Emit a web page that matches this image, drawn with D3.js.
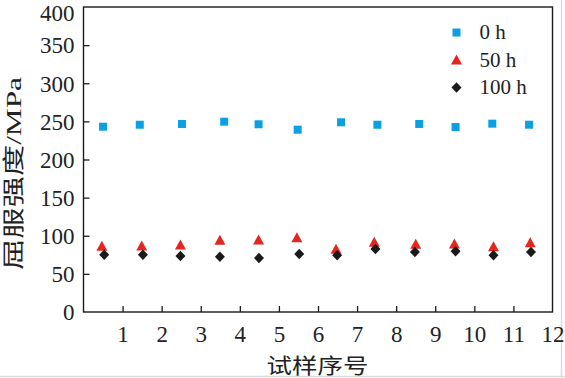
<!DOCTYPE html>
<html>
<head>
<meta charset="utf-8">
<script src="https://cdn.jsdelivr.net/npm/d3@7"></script>
<style>
  body { margin: 0; background: #fff; }
</style>
</head>
<body>
<div id="chart"></div>
<script>
var serif = "'Liberation Serif', 'Times New Roman', 'DejaVu Serif', serif";

// sample number positions
var x0h = [0.5, 1.44, 2.52, 3.6, 4.48, 5.48, 6.59, 7.52, 8.59, 9.52, 10.46, 11.4];
var x50h = [0.47, 1.49, 2.48, 3.49, 4.48, 5.46, 6.46, 7.44, 8.5, 9.49, 10.49, 11.43];
var x100h = [0.53, 1.52, 2.48, 3.49, 4.49, 5.52, 6.49, 7.47, 8.48, 9.52, 10.49, 11.45];

// yield strength, MPa
var y0h = [243, 245.6, 246.6, 249.6, 246.2, 239.1, 248.8, 245.6, 246.6, 242.6, 247, 245.6];
var y50h = [86.2, 86.6, 87.9, 94, 94.4, 97.4, 82.2, 91.4, 88.8, 89.2, 85.6, 90.9];
var y100h = [75.1, 75.1, 73.4, 72.5, 70.8, 76.1, 74.4, 82.6, 78.7, 79.6, 74.4, 78.7];

var seriesNames = ["0 h", "50 h", "100 h"];
var xTicks = [1, 2, 3, 4, 5, 6, 7, 8, 9, 10, 11, 12];
var yTicks = [0, 50, 100, 150, 200, 250, 300, 350, 400];

var margin = {top: 7, right: 12.5, bottom: 66, left: 83.5},
    width = 565 - margin.left - margin.right,
    height = 378 - margin.top - margin.bottom;

var x = d3.scaleLinear()
    .domain([0, 12])
    .range([0, width]);
var y = d3.scaleLinear()
    .domain([0, 400])
    .range([height, 0]);

var svg = d3.select("#chart")
  .append("svg")
    .attr("width", 565)
    .attr("height", 378);

// faint page border like the scan
svg.append("line")
    .attr("x1", 561.5).attr("x2", 561.5).attr("y1", 0).attr("y2", 378)
    .style("stroke", "#dcdcdc").style("stroke-width", 1.5);
svg.append("line")
    .attr("x1", 0).attr("x2", 565).attr("y1", 376.5).attr("y2", 376.5)
    .style("stroke", "#dcdcdc").style("stroke-width", 1.5);

var g = svg.append("g")
    .attr("transform", "translate(" + margin.left + "," + margin.top + ")");

// frame
g.append("rect")
    .attr("x", 0).attr("y", 0)
    .attr("width", width).attr("height", height)
    .style("fill", "none")
    .style("stroke", "#1a1a1a")
    .style("stroke-width", 1.4);

// x axis, ticks pointing in
var xAxis = g.append("g")
    .attr("transform", "translate(0," + height + ")")
    .call(d3.axisBottom(x).tickValues(xTicks).tickSizeInner(-6).tickSizeOuter(0).tickPadding(14));
xAxis.select(".domain").remove();
xAxis.selectAll("g.tick line")
    .style("stroke", "#1a1a1a").style("stroke-width", 1.3)
    .style("display", function(d) { return d === 12 ? "none" : null; });
xAxis.selectAll("g.tick text")
    .style("font-family", serif)
    .style("fill", "#222")
    .style("font-size", "23px");

// y axis, ticks pointing in
var yAxis = g.append("g")
    .call(d3.axisLeft(y).tickValues(yTicks).tickSizeInner(-6).tickSizeOuter(0).tickPadding(9));
yAxis.select(".domain").remove();
yAxis.selectAll("g.tick line")
    .style("stroke", "#1a1a1a").style("stroke-width", 1.3)
    .style("display", function(d) { return (d === 0 || d === 400) ? "none" : null; });
// top label nudged down so it stays inside the page
yAxis.selectAll("g.tick text")
    .attr("dy", function(d) { return d === 400 ? "0.6em" : "0.34em"; })
    .style("font-family", serif)
    .style("fill", "#222")
    .style("font-size", "23px");

// axis titles
svg.append("text")
    .attr("x", 317.5)
    .attr("y", 373)
    .attr("text-anchor", "middle")
    .attr("textLength", 102)
    .attr("lengthAdjust", "spacingAndGlyphs")
    .style("font-size", "21px")
    .style("fill", "#222")
    .style("font-family", "'Noto Sans CJK SC', sans-serif")
    .text("试样序号");

svg.append("text")
    .attr("transform", "translate(21,173.5) rotate(-90)")
    .attr("text-anchor", "middle")
    .attr("textLength", 193)
    .attr("lengthAdjust", "spacingAndGlyphs")
    .style("font-size", "22px")
    .style("fill", "#222")
    .style("font-family", "'Liberation Serif', 'Noto Sans CJK SC', serif")
    .text("屈服强度/MPa");

// marker shapes
var squarePath = "M-4,-4H4V4H-4Z";
var trianglePath = "M0,-5.5L5.5,4.5H-5.5Z";
var diamondPath = "M0,-5.2L5,0L0,5.2L-5,0Z";

var series = [
  {name: seriesNames[0], xs: x0h, ys: y0h, path: squarePath, color: "#0aa0e2"},
  {name: seriesNames[1], xs: x50h, ys: y50h, path: trianglePath, color: "#e3261f"},
  {name: seriesNames[2], xs: x100h, ys: y100h, path: diamondPath, color: "#1a1a1a"}
];

series.forEach(function(s, k) {
  g.selectAll("path.s" + k)
    .data(s.ys)
    .enter().append("path")
      .attr("class", "s" + k)
      .attr("d", s.path)
      .attr("transform", function(d, i) {
        return "translate(" + x(s.xs[i]) + "," + y(d) + ")"; })
      .style("fill", s.color);
});

// legend
var legend = svg.selectAll("g.legend")
    .data(series)
  .enter().append("g")
    .attr("class", "legend")
    .attr("transform", function(d, i) {
      return "translate(456.5," + (32.5 + i * 27.5) + ")"; });
legend.append("path")
    .attr("d", function(d) { return d.path; })
    .style("fill", function(d) { return d.color; });
legend.append("text")
    .attr("x", 23)
    .attr("y", 6.5)
    .style("font-family", serif)
    .style("fill", "#222")
    .style("font-size", "21px")
    .text(function(d) { return d.name; });
</script>
</body>
</html>
